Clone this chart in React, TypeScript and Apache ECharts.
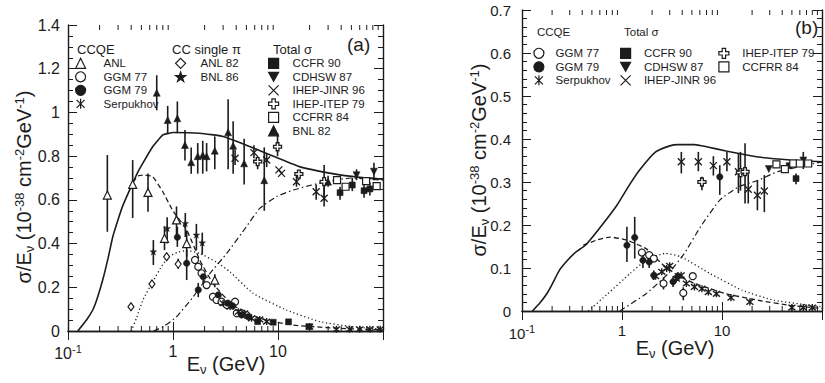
import React, { useEffect, useRef } from 'react';
import * as echarts from 'echarts';

const FONT = "'Liberation Sans', Arial, Helvetica, sans-serif";
const INK = '#1c1c1c';

// log-axis minor tick positions
const MINOR_E = [0.2, 0.3, 0.4, 0.5, 0.6, 0.7, 0.8, 0.9, 2, 3, 4, 5, 6, 7, 8, 9, 20, 30, 40, 50, 60, 70, 80, 90];

// ---------- Panel (a) curves [E, sigma/E] ----------
const A_TOTAL = [[0.124, 0], [0.15, 0.05], [0.172, 0.096], [0.19, 0.15], [0.214, 0.233], [0.24, 0.33], [0.267, 0.431], [0.3, 0.51], [0.33, 0.569], [0.37, 0.625], [0.413, 0.676], [0.46, 0.725], [0.515, 0.767], [0.64, 0.843], [0.8, 0.897], [0.92, 0.905], [1.0, 0.908], [1.8, 0.905], [3, 0.89], [5, 0.85], [8, 0.81], [16, 0.752], [33, 0.72], [60, 0.703], [100, 0.695]];
const A_CCQE = [[0.413, 0.68], [0.47, 0.71], [0.53, 0.714], [0.64, 0.706], [0.8, 0.637], [0.99, 0.553], [1.35, 0.462], [1.8, 0.325], [2.4, 0.218], [3.7, 0.119], [6.7, 0.058], [14, 0.027], [39, 0.012], [100, 0.005]];
const A_PI = [[0.4, 0], [0.45, 0.06], [0.515, 0.14], [0.64, 0.225], [0.8, 0.305], [0.92, 0.34], [1.1, 0.36], [1.35, 0.368], [1.8, 0.355], [2.6, 0.315], [3.5, 0.27], [5.8, 0.172], [12, 0.096], [25, 0.043], [50, 0.02], [100, 0.008]];
const A_DIS = [[0.65, 0], [0.81, 0.02], [1.08, 0.065], [1.56, 0.157], [2.25, 0.264], [3.25, 0.355], [5, 0.477], [6.7, 0.561], [9.7, 0.615], [14, 0.645], [21, 0.668], [30, 0.685], [50, 0.7], [100, 0.69]];

// ---------- Panel (a) data [E, y, errLow, errHigh] ----------
const A_ANL = [[0.237, 0.622, 0.454, 0.805], [0.413, 0.671, 0.517, 0.782], [0.578, 0.634, 0.546, 0.721], [0.83, 0.424, 0.37, 0.48], [1.08, 0.508, 0.44, 0.57], [1.35, 0.4, 0.34, 0.46], [2.5, 0.233, 0.2, 0.26]];
const A_GGM77 = [[1.62, 0.325], [1.74, 0.294], [1.87, 0.264], [2.09, 0.21], [2.4, 0.157], [2.6, 0.142], [2.9, 0.134], [3.26, 0.119], [3.9, 0.134], [4.05, 0.081], [4.5, 0.081], [5.0, 0.073]];
const A_GGM79 = [[1.1, 0.429, 0.385, 0.477], [1.35, 0.31, 0.233, 0.37], [1.74, 0.188, 0.155, 0.22], [1.94, 0.248, 0.22, 0.27], [2.7, 0.165], [3.35, 0.127], [3.7, 0.115], [4.5, 0.073], [5.2, 0.065]];
const A_SERP = [[3.0, 0.127], [3.5, 0.111], [4.2, 0.088], [4.8, 0.081], [5.6, 0.058], [6.7, 0.053], [7.8, 0.043], [20, 0.02], [36, 0.008], [48, 0.008], [60, 0.008], [75, 0.008], [94, 0.008]];
const A_ANL82 = [[0.398, 0.111], [0.63, 0.215], [0.87, 0.34], [1.12, 0.306, 0.285, 0.33]];
const A_BNL86 = [[0.65, 0.363, 0.302, 0.416], [0.88, 0.47, 0.4, 0.52], [1.31, 0.493, 0.43, 0.54], [1.67, 0.44, 0.37, 0.49], [1.9, 0.404, 0.35, 0.45]];
const A_CCFR90 = [[6.4, 0.043], [9.0, 0.04], [12.6, 0.042], [19.7, 0.02], [39, 0.633, 0.6, 0.66], [51, 0.668, 0.64, 0.7], [66, 0.642, 0.61, 0.67], [75, 0.65, 0.62, 0.68]];
const A_CDHSW87 = [[56, 0.713, 0.69, 0.74], [82, 0.729, 0.69, 0.77]];
const A_JINR96 = [[3.9, 0.79, 0.76, 0.83], [5.9, 0.816, 0.79, 0.85], [7.8, 0.782, 0.75, 0.81], [10.2, 0.737], [10.8, 0.721], [15, 0.683, 0.66, 0.71], [23.1, 0.637, 0.6, 0.67], [27.5, 0.607, 0.57, 0.66]];
const A_ITEP79 = [[6.4, 0.775, 0.74, 0.8], [9.9, 0.843, 0.8, 0.905], [15.8, 0.718], [27.5, 0.683, 0.6, 0.76]];
const A_CCFRR84 = [[36.5, 0.69], [44, 0.66], [69, 0.686], [87, 0.663]];
const A_BNL82 = [[0.7, 1.09, 1.01, 1.17], [0.89, 0.965, 0.905, 1.03], [1.1, 0.973, 0.905, 1.05], [1.3, 0.851, 0.78, 0.92], [1.49, 0.772, 0.72, 0.84], [1.72, 0.8, 0.72, 0.86], [1.92, 0.805, 0.72, 0.87], [2.09, 0.8, 0.73, 0.86], [2.5, 0.825, 0.74, 0.89], [3.35, 0.909, 0.74, 1.06], [3.74, 0.848, 0.72, 0.96], [4.76, 0.767, 0.67, 0.88], [7.4, 0.69, 0.55, 0.84], [30, 0.683, 0.66, 0.71]];

// ---------- Panel (b) curves ----------
const B_TOTAL = [[0.127, 0], [0.15, 0.018], [0.177, 0.04], [0.2, 0.062], [0.237, 0.095], [0.296, 0.122], [0.35, 0.138], [0.43, 0.153], [0.575, 0.188], [0.89, 0.246], [1.2, 0.295], [1.5, 0.328], [2.17, 0.37], [3, 0.384], [3.6, 0.387], [5.3, 0.387], [7, 0.382], [11, 0.372], [23, 0.358], [48, 0.351], [100, 0.347]];
const B_CCQE = [[0.41, 0.153], [0.575, 0.166], [0.76, 0.172], [1.11, 0.165], [1.74, 0.145], [2.5, 0.11], [3.6, 0.083], [5.3, 0.064], [7.6, 0.052], [11, 0.04], [23, 0.025], [48, 0.013], [100, 0.006]];
const B_PI = [[0.46, 0], [0.72, 0.04], [1.2, 0.087], [1.74, 0.118], [2.7, 0.134], [3.9, 0.126], [7.6, 0.087], [16, 0.048], [33, 0.025], [100, 0.01]];
const B_DIS = [[0.95, 0], [1.74, 0.04], [2.9, 0.087], [4.2, 0.134], [6.1, 0.196], [9.5, 0.258], [14.7, 0.289], [23, 0.304], [36, 0.324], [100, 0.347]];

// ---------- Panel (b) data ----------
const B_GGM77 = [[1.58, 0.136, 0.128, 0.145], [1.87, 0.13], [2.08, 0.122], [2.6, 0.064, 0.05, 0.078], [4.1, 0.042, 0.025, 0.055], [5.1, 0.081]];
const B_GGM79 = [[1.12, 0.153, 0.114, 0.196], [1.34, 0.171, 0.122, 0.219], [1.62, 0.118, 0.1, 0.13], [1.87, 0.114, 0.1, 0.135], [2.08, 0.083, 0.072, 0.094], [3.24, 0.068, 0.056, 0.08], [3.6, 0.08, 0.07, 0.09], [9.5, 0.312, 0.27, 0.339]];
const B_SERP = [[2.17, 0.081], [2.5, 0.091], [2.8, 0.099], [3.0, 0.105], [3.5, 0.075], [3.9, 0.083], [4.4, 0.064], [5.3, 0.056], [6.3, 0.052], [7.3, 0.044], [8.8, 0.04], [12.3, 0.031], [19, 0.021], [50, 0.008], [65, 0.008], [80, 0.008]];
const B_CCFR90 = [[47, 0.338], [55, 0.308, 0.295, 0.32]];
const B_CDHSW87 = [[29.4, 0.33], [65, 0.35, 0.33, 0.37]];
const B_JINR96 = [[3.92, 0.347, 0.32, 0.37], [5.8, 0.347, 0.325, 0.37], [8.2, 0.338, 0.315, 0.36], [11.2, 0.347, 0.325, 0.37], [14.6, 0.324, 0.274, 0.367], [18.3, 0.283, 0.25, 0.32], [22.6, 0.269, 0.234, 0.304], [26.5, 0.279, 0.23, 0.316]];
const B_ITEP79 = [[6.3, 0.3, 0.281, 0.312], [15.3, 0.322, 0.28, 0.37], [17, 0.324, 0.25, 0.39]];
const B_CCFRR84 = [[35, 0.341], [42.5, 0.33], [51.6, 0.343], [60, 0.343], [72.7, 0.343]];

const ASTER = 'path://M5,0L5,10M1,1L9,9M9,1L1,9';
const XMARK = 'path://M0,0L10,10M10,0L0,10';
const STAR = 'path://M5,0L6.2,3.6L10,3.6L6.9,5.9L8.1,9.5L5,7.3L1.9,9.5L3.1,5.9L0,3.6L3.8,3.6Z';
const CROSS = 'path://M3.3,0L6.7,0L6.7,3.3L10,3.3L10,6.7L6.7,6.7L6.7,10L3.3,10L3.3,6.7L0,6.7L0,3.3L3.3,3.3Z';
const DOWN = 'path://M0,0L10,0L5,9Z';

const SYM: Record<string, any> = {
  'ANL': { symbol: 'triangle', size: 8, fill: '#fff', bw: 1.2 },
  'GGM 77': { symbol: 'circle', size: 7, fill: '#fff', bw: 1.2 },
  'GGM 79': { symbol: 'circle', size: 6.5, fill: INK, bw: 0.5 },
  'Serpukhov': { symbol: ASTER, size: 7, fill: INK, bw: 1.4 },
  'ANL 82': { symbol: 'diamond', size: [6, 8], fill: '#fff', bw: 1.2 },
  'BNL 86': { symbol: STAR, size: 7, fill: INK, bw: 0.3 },
  'CCFR 90': { symbol: 'rect', size: 6, fill: INK, bw: 0.5 },
  'CDHSW 87': { symbol: DOWN, size: 7, fill: INK, bw: 0.5 },
  'IHEP-JINR 96': { symbol: XMARK, size: 7, fill: INK, bw: 1.3 },
  'IHEP-ITEP 79': { symbol: CROSS, size: 8, fill: '#fff', bw: 1.3 },
  'CCFRR 84': { symbol: 'rect', size: 7, fill: '#fff', bw: 1.2 },
  'BNL 82': { symbol: 'triangle', size: 7, fill: INK, bw: 0.5 },
};

const A_SETS: [string, number[][]][] = [
  ['ANL', A_ANL], ['GGM 77', A_GGM77], ['GGM 79', A_GGM79], ['Serpukhov', A_SERP],
  ['ANL 82', A_ANL82], ['BNL 86', A_BNL86], ['CCFR 90', A_CCFR90], ['CDHSW 87', A_CDHSW87],
  ['IHEP-JINR 96', A_JINR96], ['IHEP-ITEP 79', A_ITEP79], ['CCFRR 84', A_CCFRR84], ['BNL 82', A_BNL82],
];
const B_SETS: [string, number[][]][] = [
  ['GGM 77', B_GGM77], ['GGM 79', B_GGM79], ['Serpukhov', B_SERP], ['CCFR 90', B_CCFR90],
  ['CDHSW 87', B_CDHSW87], ['IHEP-JINR 96', B_JINR96], ['IHEP-ITEP 79', B_ITEP79], ['CCFRR 84', B_CCFRR84],
];

function buildOption() {
  const series: any[] = [];
  const panels = [
    { sets: A_SETS, curves: [A_TOTAL, A_CCQE, A_PI, A_DIS], xi: 0, yi: 0 },
    { sets: B_SETS, curves: [B_TOTAL, B_CCQE, B_PI, B_DIS], xi: 2, yi: 2 },
  ];
  const lineStyles = [
    { type: 'solid', width: 1.6 },
    { type: [5, 3], width: 1.3 },
    { type: [1.2, 2.6], width: 1.3 },
    { type: [6, 3, 1.5, 3], width: 1.2 },
  ];
  panels.forEach((p) => {
    p.curves.forEach((c, i) => {
      series.push({
        type: 'line', xAxisIndex: p.xi, yAxisIndex: p.yi, data: c, showSymbol: false, symbol: 'none',
        smooth: 0.15, silent: true, z: 3, lineStyle: { color: INK, ...lineStyles[i] },
      });
    });
    const errs: number[][] = [];
    p.sets.forEach(([, d]) => d.forEach((r) => { if (r.length === 4) errs.push([r[0], r[2], r[3]]); }));
    series.push({
      type: 'custom', xAxisIndex: p.xi, yAxisIndex: p.yi, data: errs, silent: true, z: 4,
      encode: { x: 0, y: [1, 2] },
      renderItem: (params: any, api: any) => {
        const a = api.coord([api.value(0), api.value(1)]);
        const b = api.coord([api.value(0), api.value(2)]);
        return { type: 'line', shape: { x1: a[0], y1: a[1], x2: b[0], y2: b[1] }, style: { stroke: INK, lineWidth: 1.6 } };
      },
    });
    series.push({
      type: 'custom', xAxisIndex: p.xi, yAxisIndex: p.yi, data: MINOR_E.map((e) => [e, 0]), silent: true, z: 2,
      encode: { x: 0, y: 1 }, clip: false,
      renderItem: (params: any, api: any) => {
        const cs = params.coordSys;
        const x = api.coord([api.value(0), 0])[0];
        const L = 5;
        return {
          type: 'group', children: [
            { type: 'line', shape: { x1: x, y1: cs.y + cs.height, x2: x, y2: cs.y + cs.height - L }, style: { stroke: INK, lineWidth: 1 } },
            { type: 'line', shape: { x1: x, y1: cs.y, x2: x, y2: cs.y + L }, style: { stroke: INK, lineWidth: 1 } },
          ],
        };
      },
    });
    p.sets.forEach(([name, d]) => {
      const s = SYM[name];
      series.push({
        type: 'scatter', name, xAxisIndex: p.xi, yAxisIndex: p.yi, data: d.map((r) => [r[0], r[1]]),
        symbol: s.symbol, symbolSize: s.size, silent: true, z: 5,
        itemStyle: { color: s.fill, borderColor: INK, borderWidth: s.bw, opacity: 1 },
        emphasis: { disabled: true },
      });
    });
  });

  const logFmt = (v: number) => {
    const p = Math.round(Math.log10(v));
    if (p === -1) return '{b|10}{s|-1}';
    if (p === 0) return '{b|1}';
    if (p === 1) return '{b|10}';
    return '';
  };
  const xAxis = (grid: number, pos: string, labels: boolean, fs: number) => ({
    type: 'log', gridIndex: grid, position: pos, min: 0.1, max: 100, logBase: 10,
    axisLine: { show: true, lineStyle: { color: INK, width: 1.4 } },
    axisTick: { show: true, inside: true, length: 9, lineStyle: { color: INK, width: 1 } },
    splitLine: { show: false },
    axisLabel: labels ? {
      show: true, margin: 12, formatter: logFmt, color: INK,
      rich: {
        b: { fontSize: fs, fontFamily: FONT, color: INK },
        s: { fontSize: 11, fontFamily: FONT, color: INK, verticalAlign: 'bottom', padding: [0, 0, 9, 0] },
      },
    } : { show: false },
  });
  const yAxis = (grid: number, pos: string, labels: boolean, max: number, interval: number, minorSplit: number, fs: number, margin: number) => ({
    type: 'value', gridIndex: grid, position: pos, min: 0, max, interval,
    axisLine: { show: true, lineStyle: { color: INK, width: 1.4 } },
    axisTick: { show: true, inside: true, length: 9, lineStyle: { color: INK, width: 1 } },
    minorTick: { show: true, splitNumber: minorSplit, length: 5, lineStyle: { color: INK, width: 1 } },
    splitLine: { show: false },
    axisLabel: labels ? { show: true, fontSize: fs, fontFamily: FONT, color: INK, margin } : { show: false },
  });

  const legendBase = (names: string[], iconCx: number, rowCy: number, textLeft: number) => ({
    data: names, orient: 'vertical', left: iconCx - 5, top: rowCy - 6, padding: 0, itemWidth: 10, itemHeight: 10, itemGap: 1.5,
    selectedMode: false, inactiveColor: INK,
    itemStyle: { borderWidth: 1.2 },
    textStyle: { fontFamily: FONT, fontSize: 11.5, color: INK, lineHeight: 12, padding: [0, 0, 0, textLeft - (iconCx + 10)] },
  });

  const rich = (big: number) => ({
    n: { fontSize: big, fontFamily: FONT, fill: INK, color: INK },
    sp: { fontSize: 13, fontFamily: FONT, fill: INK, color: INK, verticalAlign: 'bottom', padding: [0, 0, 10, 0] },
    sb: { fontSize: 13, fontFamily: FONT, fill: INK, color: INK, verticalAlign: 'top', padding: [10, 0, 0, 0] },
  });
  const txt = (x: number, y: number, text: string, size: number, align = 'left') => ({
    type: 'text', x, y, silent: true,
    style: { text, fontSize: size, fontFamily: FONT, fill: INK, align, verticalAlign: 'middle' },
  });
  const yTitle = '{n|σ/E}{sb|ν}{n| (10}{sp|-38}{n| cm}{sp|-2}{n|GeV}{sp|-1}{n|)}';
  const xTitle = '{n|E}{sb|ν}{n| (GeV)}';

  return {
    animation: false,
    backgroundColor: '#fff',
    grid: [
      { left: 68, top: 25, width: 315, height: 306 },
      { left: 522, top: 10, width: 312, height: 301 },
    ],
    xAxis: [xAxis(0, 'bottom', true, 16), xAxis(0, 'top', false, 16), xAxis(1, 'bottom', true, 15), xAxis(1, 'top', false, 15)],
    yAxis: [
      yAxis(0, 'left', true, 1.4, 0.2, 4, 16, 8), yAxis(0, 'right', false, 1.4, 0.2, 4, 16, 8),
      yAxis(1, 'left', true, 0.7, 0.1, 5, 15, 11), yAxis(1, 'right', false, 0.7, 0.1, 5, 15, 11),
    ],
    legend: [
      legendBase(['ANL', 'GGM 77', 'GGM 79', 'Serpukhov'], 80, 63.3, 103),
      legendBase(['ANL 82', 'BNL 86'], 180, 63.3, 200),
      legendBase(['CCFR 90', 'CDHSW 87', 'IHEP-JINR 96', 'IHEP-ITEP 79', 'CCFRR 84', 'BNL 82'], 273, 63.3, 292),
      legendBase(['GGM 77', 'GGM 79', 'Serpukhov'], 538.3, 53.3, 555),
      legendBase(['CCFR 90', 'CDHSW 87', 'IHEP-JINR 96'], 625, 53.3, 643.3),
      legendBase(['IHEP-ITEP 79', 'CCFRR 84'], 723.3, 53.3, 741.7),
    ],
    graphic: [
      txt(77, 49, 'CCQE', 13), txt(172, 49, 'CC single π', 13), txt(273, 49, 'Total σ', 13),
      txt(347, 44, '(a)', 19),
      txt(537, 32, 'CCQE', 11.5), txt(624, 32, 'Total σ', 11.5),
      txt(795, 27, '(b)', 19),
      { type: 'text', x: 24, y: 187, rotation: Math.PI / 2, silent: true,
        style: { text: yTitle, rich: rich(20), align: 'center', verticalAlign: 'middle', fill: INK, fontFamily: FONT, fontSize: 20 } },
      { type: 'text', x: 479, y: 160, rotation: Math.PI / 2, silent: true,
        style: { text: yTitle, rich: rich(20), align: 'center', verticalAlign: 'middle', fill: INK, fontFamily: FONT, fontSize: 20 } },
      { type: 'text', x: 226, y: 364, silent: true,
        style: { text: xTitle, rich: rich(20), align: 'center', verticalAlign: 'middle', fill: INK, fontFamily: FONT, fontSize: 20 } },
      { type: 'text', x: 675, y: 348, silent: true,
        style: { text: xTitle, rich: rich(20), align: 'center', verticalAlign: 'middle', fill: INK, fontFamily: FONT, fontSize: 20 } },
    ],
    series,
  };
}

export default function App() {
  const ref = useRef<HTMLDivElement>(null);
  useEffect(() => {
    if (!ref.current) return;
    const chart = echarts.init(ref.current, undefined, { renderer: 'svg' });
    chart.setOption(buildOption() as any);
    return () => chart.dispose();
  }, []);
  return <div ref={ref} style={{ position: 'absolute', left: 0, top: 0, width: 825, height: 383, background: '#fff' }} />;
}
